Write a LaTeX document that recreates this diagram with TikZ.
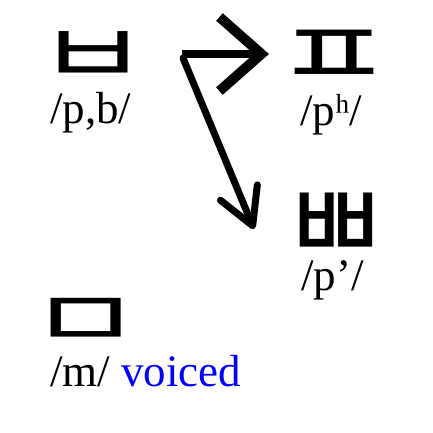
\documentclass[tikz,border=0pt]{standalone}
\usepackage{fontspec}
\setmainfont{Liberation Serif}
\newfontfamily\krfont{Noto Sans CJK KR}
\usetikzlibrary{arrows.meta}
\tikzset{
  jamo/.style={inner sep=0pt, font=\krfont\fontsize{100}{100}\selectfont},
  ipa/.style={inner sep=0pt, anchor=base west, font=\fontsize{45}{45}\selectfont},
  bigarrow/.style={line width=8pt, -{Straight Barb[length=42pt,width=74pt,line width=10pt]}},
  thinarrow/.style={line width=7pt, line cap=round, -{Straight Barb[round,length=36pt,width=40pt]}}
}
\begin{document}
\begin{tikzpicture}[x=1pt,y=-1pt]
\fill[white] (0,0) rectangle (432,433);
\useasboundingbox (0,0) rectangle (432,433);
\node[jamo] (b) at (93,58.4) {\scalebox{1.23}[0.85]{ㅂ}};
\node[jamo] (ph) at (334,58.6) {\scalebox{1.29}[0.92]{ㅍ}};
\node[jamo] (pp) at (335,227.3) {\scalebox{1.17}[1.13]{ㅃ}};
\node[jamo] (m) at (86,323) {\scalebox{1.24}[0.82]{ㅁ}};
\node[ipa] (lb) at (50,123) {/p,b/};
\node[ipa] (lph) at (300,125) {/pʰ/};
\node[ipa] (lpp) at (301,290) {/p’/};
\node[ipa] (lm) at (50,386) {/m/ \textcolor{blue}{voiced}};
\coordinate (s1) at (182,54);
\coordinate (t1) at (269,54);
\coordinate (s2) at (183,58);
\coordinate (t2) at (254,229);
\draw[bigarrow] (s1) -- (t1);
\draw[thinarrow] (s2) -- (t2);
\end{tikzpicture}
\end{document}
